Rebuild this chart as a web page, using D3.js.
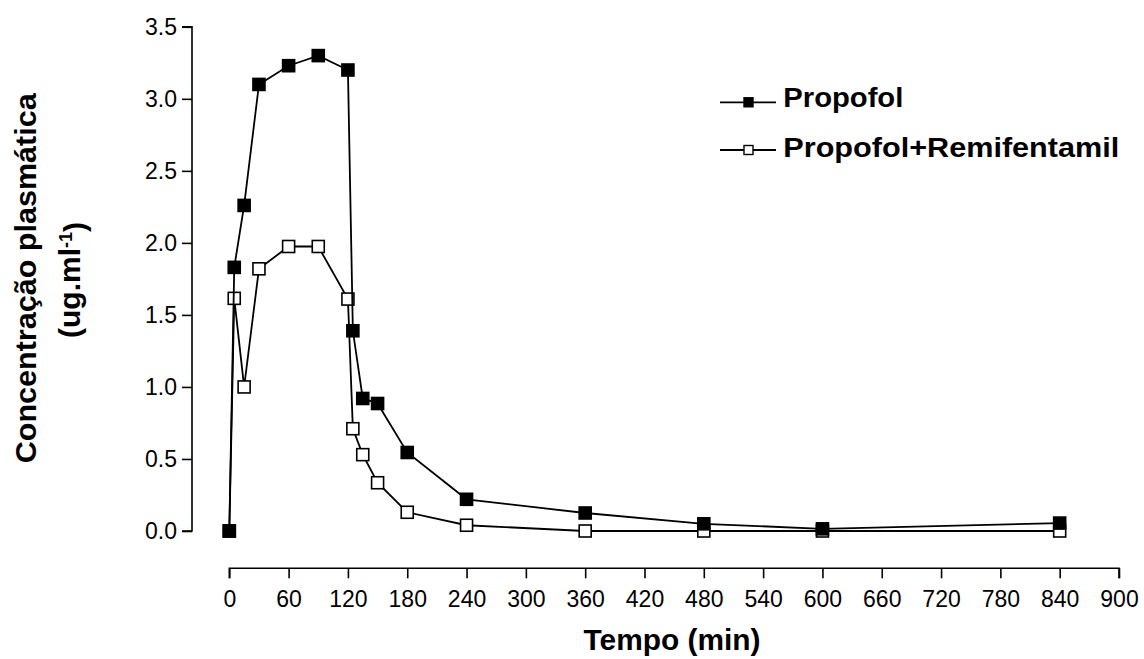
<!DOCTYPE html>
<html>
<head>
<meta charset="utf-8">
<script src="https://cdn.jsdelivr.net/npm/d3@7"></script>
<style>
  html, body { margin: 0; padding: 0; background: #fff; }
  svg { display: block; }
  text { font-family: "Liberation Sans", Arial, sans-serif; fill: #000; }
</style>
</head>
<body>
<svg id="chart" width="1144" height="659"></svg>
<script>
// ---- data ----
const times = [0, 5, 15, 30, 60, 90, 120, 125, 135, 150, 180, 240, 360, 480, 600, 840];
const propofol = [0, 1.83, 2.26, 3.10, 3.23, 3.30, 3.20, 1.39, 0.92, 0.885, 0.545, 0.22, 0.125, 0.05, 0.015, 0.055];
const propofolRemi = [0, 1.615, 1.0, 1.82, 1.975, 1.975, 1.61, 0.71, 0.53, 0.335, 0.13, 0.04, 0.0, 0.0, 0.0, 0.0];
const xTicks = [0, 60, 120, 180, 240, 300, 360, 420, 480, 540, 600, 660, 720, 780, 840, 900];
const yTicks = [0, 0.5, 1.0, 1.5, 2.0, 2.5, 3.0, 3.5];
const seriesNames = ["Propofol", "Propofol+Remifentamil"];
const xTitle = "Tempo (min)";
const yTitle1 = "Concentração plasmática";

// ---- layout ----
const svg = d3.select("#chart");
const x = d3.scaleLinear().domain([0, 900]).range([229.3, 1119]);
const y = d3.scaleLinear().domain([0, 3.5]).range([531, 26.8]);
const yAxisX = 192;
const xAxisY = 568.3;

// y axis
const gy = svg.append("g").attr("transform", `translate(${yAxisX},0)`)
  .call(d3.axisLeft(y).tickValues(yTicks).tickFormat(d3.format(".1f")).tickSize(10).tickPadding(5));
gy.selectAll("text").style("font-size", "23px");
gy.selectAll("path, line").attr("stroke", "#000").attr("stroke-width", 1.6);
gy.select(".domain").attr("d", `M-10,${y(3.5)}H0V${y(0)}H-10`);

// x axis
const gx = svg.append("g").attr("transform", `translate(0,${xAxisY})`)
  .call(d3.axisBottom(x).tickValues(xTicks).tickFormat(d3.format("d")).tickSize(10).tickPadding(12));
gx.selectAll("text").style("font-size", "23px");
gx.selectAll("path, line").attr("stroke", "#000").attr("stroke-width", 1.6);
gx.select(".domain").attr("d", `M${x(0)},10V0H${x(900)}V10`);

// series
const line = d3.line().x(d => x(d[0])).y(d => y(d[1]));
const ms = 12;
function drawSeries(vals, filled) {
  const pts = times.map((t, i) => [t, vals[i]]);
  svg.append("path").datum(pts).attr("d", line)
    .attr("fill", "none").attr("stroke", "#000").attr("stroke-width", 1.8);
  svg.append("g").selectAll("rect").data(pts).join("rect")
    .attr("x", d => x(d[0]) - ms / 2).attr("y", d => y(d[1]) - ms / 2)
    .attr("width", ms).attr("height", ms)
    .attr("fill", filled ? "#000" : "#fff")
    .attr("stroke", "#000").attr("stroke-width", 1.6);
}
drawSeries(propofolRemi, false);
drawSeries(propofol, true);

// legend
const legendItems = [
  { name: seriesNames[0], filled: true, ly: 102.3, by: 107.3, w: 120 },
  { name: seriesNames[1], filled: false, ly: 150, by: 157.3, w: 336 }
];
legendItems.forEach(it => {
  svg.append("line").attr("x1", 720).attr("x2", 776).attr("y1", it.ly).attr("y2", it.ly)
    .attr("stroke", "#000").attr("stroke-width", 1.8);
  svg.append("rect").attr("x", 748.5 - 4.5).attr("y", it.ly - 4.5).attr("width", 9).attr("height", 9)
    .attr("fill", it.filled ? "#000" : "#fff").attr("stroke", "#000").attr("stroke-width", 1.4);
  svg.append("text").attr("x", 783.3).attr("y", it.by)
    .attr("textLength", it.w).attr("lengthAdjust", "spacingAndGlyphs")
    .style("font-size", "27px").style("font-weight", "bold").text(it.name);
});

// x title
svg.append("text").attr("x", 672).attr("y", 650).attr("text-anchor", "middle")
  .attr("textLength", 177).attr("lengthAdjust", "spacingAndGlyphs")
  .style("font-size", "29px").style("font-weight", "bold").text(xTitle);

// y title
const yt = svg.append("g");
yt.append("text").attr("transform", "translate(36,278.3) rotate(-90)")
  .attr("text-anchor", "middle")
  .attr("textLength", 370).attr("lengthAdjust", "spacingAndGlyphs")
  .style("font-size", "30px").style("font-weight", "bold").text(yTitle1);
const t2 = yt.append("text").attr("transform", "translate(80,280) rotate(-90)")
  .attr("text-anchor", "middle")
  .style("font-size", "30px").style("font-weight", "bold");
t2.append("tspan").text("(ug.ml");
t2.append("tspan").attr("dy", "-0.45em").style("font-size", "18px").text("-1");
t2.append("tspan").attr("dy", "0.45em").text(")");
</script>
</body>
</html>
